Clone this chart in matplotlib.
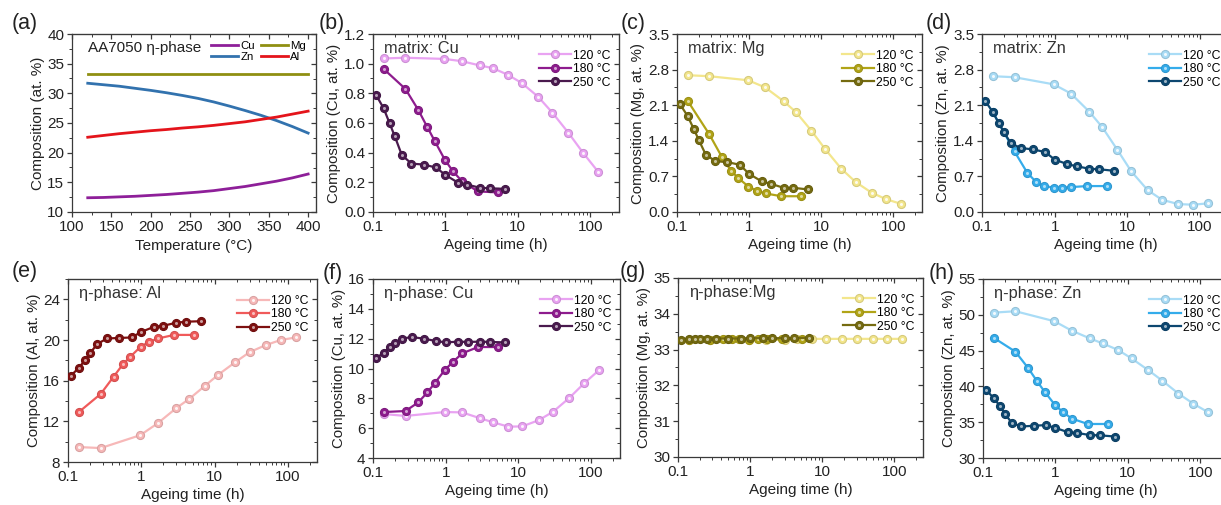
import matplotlib
matplotlib.use("Agg")
import matplotlib.pyplot as plt
from matplotlib.ticker import AutoMinorLocator, FixedLocator, FuncFormatter, NullFormatter, MultipleLocator
from matplotlib.legend_handler import HandlerTuple
from matplotlib.colors import to_rgb

plt.rcParams['font.family'] = ['Liberation Sans', 'DejaVu Sans']

# ---------------- data ----------------
# panel (a): eta-phase composition vs temperature
temp = [120, 140, 160, 180, 200, 220, 240, 260, 280, 300, 320, 340, 360, 380, 400]
a_cu = [12.4, 12.45, 12.55, 12.65, 12.8, 12.95, 13.15, 13.35, 13.6, 13.95, 14.3, 14.75, 15.2, 15.75, 16.4]
a_zn = [31.7, 31.45, 31.2, 30.85, 30.5, 30.1, 29.65, 29.15, 28.55, 27.85, 27.1, 26.3, 25.4, 24.4, 23.3]
a_mg = [33.3] * 15
a_al = [22.6, 22.9, 23.2, 23.45, 23.7, 23.9, 24.15, 24.35, 24.6, 24.9, 25.2, 25.6, 26.0, 26.5, 27.0]

# ageing times (h)
t120 = [0.14, 0.28, 0.97, 1.67, 3.0, 4.5, 7.3, 11.3, 19, 30, 50, 80, 128]
t180 = [0.14, 0.28, 0.42, 0.56, 0.71, 0.98, 1.27, 1.69, 2.8, 5.3]
t250 = [0.11, 0.14, 0.17, 0.2, 0.25, 0.34, 0.5, 0.74, 1.0, 1.5, 2.0, 3.0, 4.1, 6.6]

# (b) matrix Cu
cu_m_120 = [1.035, 1.04, 1.032, 1.017, 0.988, 0.97, 0.925, 0.87, 0.778, 0.67, 0.534, 0.398, 0.273]
cu_m_180 = [0.965, 0.83, 0.69, 0.574, 0.48, 0.353, 0.275, 0.208, 0.139, 0.132]
cu_m_250 = [0.79, 0.70, 0.597, 0.51, 0.384, 0.326, 0.32, 0.30, 0.25, 0.197, 0.185, 0.163, 0.16, 0.156]
# (c) matrix Mg
mg_m_120 = [2.69, 2.67, 2.59, 2.45, 2.18, 1.96, 1.60, 1.24, 0.85, 0.59, 0.38, 0.25, 0.16]
mg_m_180 = [2.19, 1.53, 1.08, 0.815, 0.665, 0.50, 0.42, 0.365, 0.31, 0.31]
mg_m_250 = [2.12, 1.89, 1.64, 1.42, 1.13, 1.0, 0.98, 0.93, 0.75, 0.60, 0.555, 0.476, 0.476, 0.443]
# (d) matrix Zn
zn_m_120 = [2.67, 2.65, 2.51, 2.33, 1.97, 1.67, 1.22, 0.80, 0.43, 0.24, 0.156, 0.143, 0.17]
zn_m_180 = [1.97, 1.19, 0.77, 0.585, 0.51, 0.48, 0.48, 0.49, 0.51, 0.51]
zn_m_250 = [2.19, 1.97, 1.75, 1.57, 1.35, 1.26, 1.23, 1.18, 1.03, 0.94, 0.90, 0.85, 0.84, 0.81]
# (e) eta-phase Al
al_e_120 = [9.47, 9.37, 10.64, 11.8, 13.3, 14.2, 15.46, 16.6, 17.8, 18.8, 19.5, 20.0, 20.25]
al_e_180 = [12.9, 14.7, 16.4, 17.6, 18.36, 19.34, 19.8, 20.15, 20.5, 20.5]
al_e_250 = [16.5, 17.25, 18.0, 18.7, 19.6, 20.15, 20.2, 20.25, 20.8, 21.3, 21.4, 21.7, 21.8, 21.85]
# (f) eta-phase Cu
cu_e_120 = [6.95, 6.82, 7.08, 7.06, 6.66, 6.39, 6.1, 6.12, 6.53, 7.1, 8.02, 9.0, 9.88]
cu_e_180 = [7.08, 7.15, 7.73, 8.4, 9.03, 9.92, 10.46, 11.02, 11.44, 11.44]
cu_e_250 = [10.7, 11.04, 11.42, 11.69, 12.0, 12.11, 12.0, 11.84, 11.75, 11.8, 11.78, 11.8, 11.78, 11.75]
# (g) eta-phase Mg
mg_e_120 = [33.27, 33.28, 33.27, 33.28, 33.28, 33.29, 33.3, 33.3, 33.3, 33.3, 33.3, 33.3, 33.3]
mg_e_180 = [33.27, 33.28, 33.29, 33.29, 33.3, 33.28, 33.29, 33.29, 33.29, 33.3]
mg_e_250 = [33.28, 33.29, 33.31, 33.31, 33.31, 33.31, 33.31, 33.31, 33.32, 33.32, 33.32, 33.32, 33.32, 33.33]
# (h) eta-phase Zn
zn_e_120 = [50.3, 50.5, 49.1, 47.8, 46.7, 46.0, 45.1, 43.9, 42.3, 40.8, 39.0, 37.6, 36.4]
zn_e_180 = [46.8, 44.85, 42.57, 40.7, 39.26, 37.45, 36.4, 35.5, 34.75, 34.75]
zn_e_250 = [39.5, 38.4, 37.3, 36.2, 34.9, 34.4, 34.5, 34.6, 34.2, 33.6, 33.5, 33.2, 33.17, 33.0]

temp_labels = ['120 °C', '180 °C', '250 °C']

# ---------------- styling ----------------
W, H = 1221, 505
fig = plt.figure(figsize=(W / 100, H / 100), dpi=100)
SPINE = '#3a3a3a'

pal_cu = ['#E9A3F2', '#8E1C8E', '#4A1A4E']
pal_mg = ['#F3E68C', '#B1A417', '#756B10']
pal_zn = ['#A9DCF6', '#34ACEB', '#0D4770']
pal_al = ['#F7B8B8', '#F05A5A', '#7E1010']


def rect(L, R, T, B):
    return [L / W, 1 - B / H, (R - L) / W, (B - T) / H]


def blend(c, f):
    r, g, b = to_rgb(c)
    return (r + (1 - r) * f, g + (1 - g) * f, b + (1 - b) * f)


def darken(c, f):
    r, g, b = to_rgb(c)
    return (r * (1 - f), g * (1 - f), b * (1 - f))


def style_axes(ax, log=False, ymajor=None, xmajor=None):
    for s in ax.spines.values():
        s.set_color(SPINE)
        s.set_linewidth(0.9)
    ax.tick_params(which='both', direction='out', colors=SPINE, labelcolor='#222222', labelsize=11,
                   top=False, right=False)
    ax.tick_params(which='major', length=3.5, width=0.9, pad=2)
    ax.tick_params(which='minor', length=2, width=0.7)
    ax.yaxis.set_minor_locator(AutoMinorLocator(2))
    sy = ax.secondary_yaxis('right')
    sy.tick_params(which='both', direction='in', colors=SPINE)
    sy.tick_params(which='major', length=3.5, width=0.9)
    sy.tick_params(which='minor', length=2, width=0.7)
    sy.yaxis.set_major_locator(MultipleLocator(ymajor))
    sy.yaxis.set_minor_locator(AutoMinorLocator(2))
    sy.yaxis.set_major_formatter(NullFormatter())
    sy.spines['right'].set_color(SPINE)
    sx = ax.secondary_xaxis('top')
    sx.tick_params(which='both', direction='in', colors=SPINE)
    sx.tick_params(which='major', length=3.5, width=0.9)
    sx.tick_params(which='minor', length=2, width=0.7)
    if log:
        sx.xaxis.set_major_locator(FixedLocator([0.1, 1, 10, 100]))
    else:
        sx.xaxis.set_major_locator(MultipleLocator(xmajor))
        sx.xaxis.set_minor_locator(AutoMinorLocator(2))
    sx.xaxis.set_major_formatter(NullFormatter())
    sx.xaxis.set_minor_formatter(NullFormatter())
    sx.spines['top'].set_color(SPINE)


def time_panel(pos, data, pal, ylim, ystep, yfmt, ylabel, note, letter, letter_xy):
    ax = fig.add_axes(rect(*pos))
    ax.set_xscale('log')
    ax.set_xlim(0.1, 250)
    ax.set_ylim(*ylim)
    handles = []
    times = [t120, t180, t250]
    for i, (t, v) in enumerate(zip(times, data)):
        c = pal[i]
        l, = ax.plot(t, v, '-', color=c, lw=1.6, marker='o', ms=5.8, mfc=c, mec=darken(c, 0.12),
                     mew=0.8, zorder=3 + i)
        hl, = ax.plot(t, v, ls='none', marker='o', ms=2.2, mfc=blend(c, 0.6 if i else 0.85),
                      mec='none', zorder=3 + i)
        handles.append((l, hl))
    ax.xaxis.set_major_locator(FixedLocator([0.1, 1, 10, 100]))
    ax.xaxis.set_major_formatter(FuncFormatter(lambda v, p: f"{v:g}"))
    ax.yaxis.set_major_locator(MultipleLocator(ystep))
    ax.yaxis.set_major_formatter(FuncFormatter(yfmt))
    style_axes(ax, log=True, ymajor=ystep)
    ax.set_ylabel(ylabel, fontsize=10.8, color='#222222', labelpad=2)
    ax.set_xlabel('Ageing time (h)', fontsize=11, color='#222222', labelpad=3)
    ax.text(0.045, 0.96, note, transform=ax.transAxes, ha='left', va='top', fontsize=11.8, color='#333333')
    ax.legend(handles, temp_labels, handler_map={tuple: HandlerTuple(ndivide=1)}, loc='upper right',
              bbox_to_anchor=(1.0, 0.96), frameon=False, fontsize=8.8, handlelength=2.6,
              handletextpad=0.2, labelspacing=0.12, borderaxespad=0.3)
    fig.text(letter_xy[0] / W, 1 - letter_xy[1] / H, letter, fontsize=15.5, ha='center', va='center',
             color='#222222')
    return ax


# ---------------- panel (a) ----------------
ax = fig.add_axes(rect(72, 316, 34, 212))
la, = ax.plot(temp, a_cu, color='#8E1F99', lw=2)
lb, = ax.plot(temp, a_zn, color='#3272AE', lw=2)
lc, = ax.plot(temp, a_mg, color='#8F8F12', lw=2)
ld, = ax.plot(temp, a_al, color='#E4141B', lw=2)
ax.set_xlim(100, 410)
ax.set_ylim(10, 40)
ax.xaxis.set_major_locator(MultipleLocator(50))
ax.xaxis.set_minor_locator(AutoMinorLocator(2))
ax.yaxis.set_major_locator(MultipleLocator(5))
style_axes(ax, log=False, ymajor=5, xmajor=50)
ax.set_ylabel('Composition (at. %)', fontsize=11, color='#222222', labelpad=2)
ax.set_xlabel('Temperature (°C)', fontsize=11, color='#222222', labelpad=4)
ax.text(0.065, 0.96, 'AA7050 η-phase', transform=ax.transAxes, ha='left', va='top', fontsize=11,
        color='#222222')
ax.legend([la, lb, lc, ld], ['Cu', 'Zn', 'Mg', 'Al'], ncol=2, loc='upper right',
          bbox_to_anchor=(0.99, 1.0), frameon=False, fontsize=8.2, handlelength=2.4,
          handletextpad=0.2, labelspacing=0.05, columnspacing=0.5, borderaxespad=0.25)
fig.text(25 / W, 1 - 24 / H, '(a)', fontsize=15.5, ha='center', va='center', color='#222222')

f1 = lambda v, p: f"{v:.1f}"
f0 = lambda v, p: f"{v:.0f}"

time_panel((373, 619, 34, 212), [cu_m_120, cu_m_180, cu_m_250], pal_cu, (0, 1.2), 0.2, f1,
           'Composition (Cu, at. %)', 'matrix: Cu', '(b)', (332, 23))
time_panel((677, 922, 34, 212), [mg_m_120, mg_m_180, mg_m_250], pal_mg, (0, 3.5), 0.7, f1,
           'Composition (Mg, at. %)', 'matrix: Mg', '(c)', (633, 23))
time_panel((982, 1229, 34, 212), [zn_m_120, zn_m_180, zn_m_250], pal_zn, (0, 3.5), 0.7, f1,
           'Composition (Zn, at. %)', 'matrix: Zn', '(d)', (939, 23))

time_panel((68, 317, 279, 462), [al_e_120, al_e_180, al_e_250], pal_al, (8, 26), 4, f0,
           'Composition (Al, at. %)', 'η-phase: Al', '(e)', (25, 271))
time_panel((373, 620, 279, 458), [cu_e_120, cu_e_180, cu_e_250], pal_cu, (4, 16), 2, f0,
           'Composition (Cu, at. %)', 'η-phase: Cu', '(f)', (333, 273))
time_panel((678, 923, 278, 457), [mg_e_120, mg_e_180, mg_e_250], pal_mg, (30, 35), 1, f0,
           'Composition (Mg, at. %)', 'η-phase:Mg', '(g)', (633, 271))
time_panel((983, 1229, 279, 458), [zn_e_120, zn_e_180, zn_e_250], pal_zn, (30, 55), 5, f0,
           'Composition (Zn, at. %)', 'η-phase: Zn', '(h)', (942, 273))

fig.savefig('out.png', dpi=100)
